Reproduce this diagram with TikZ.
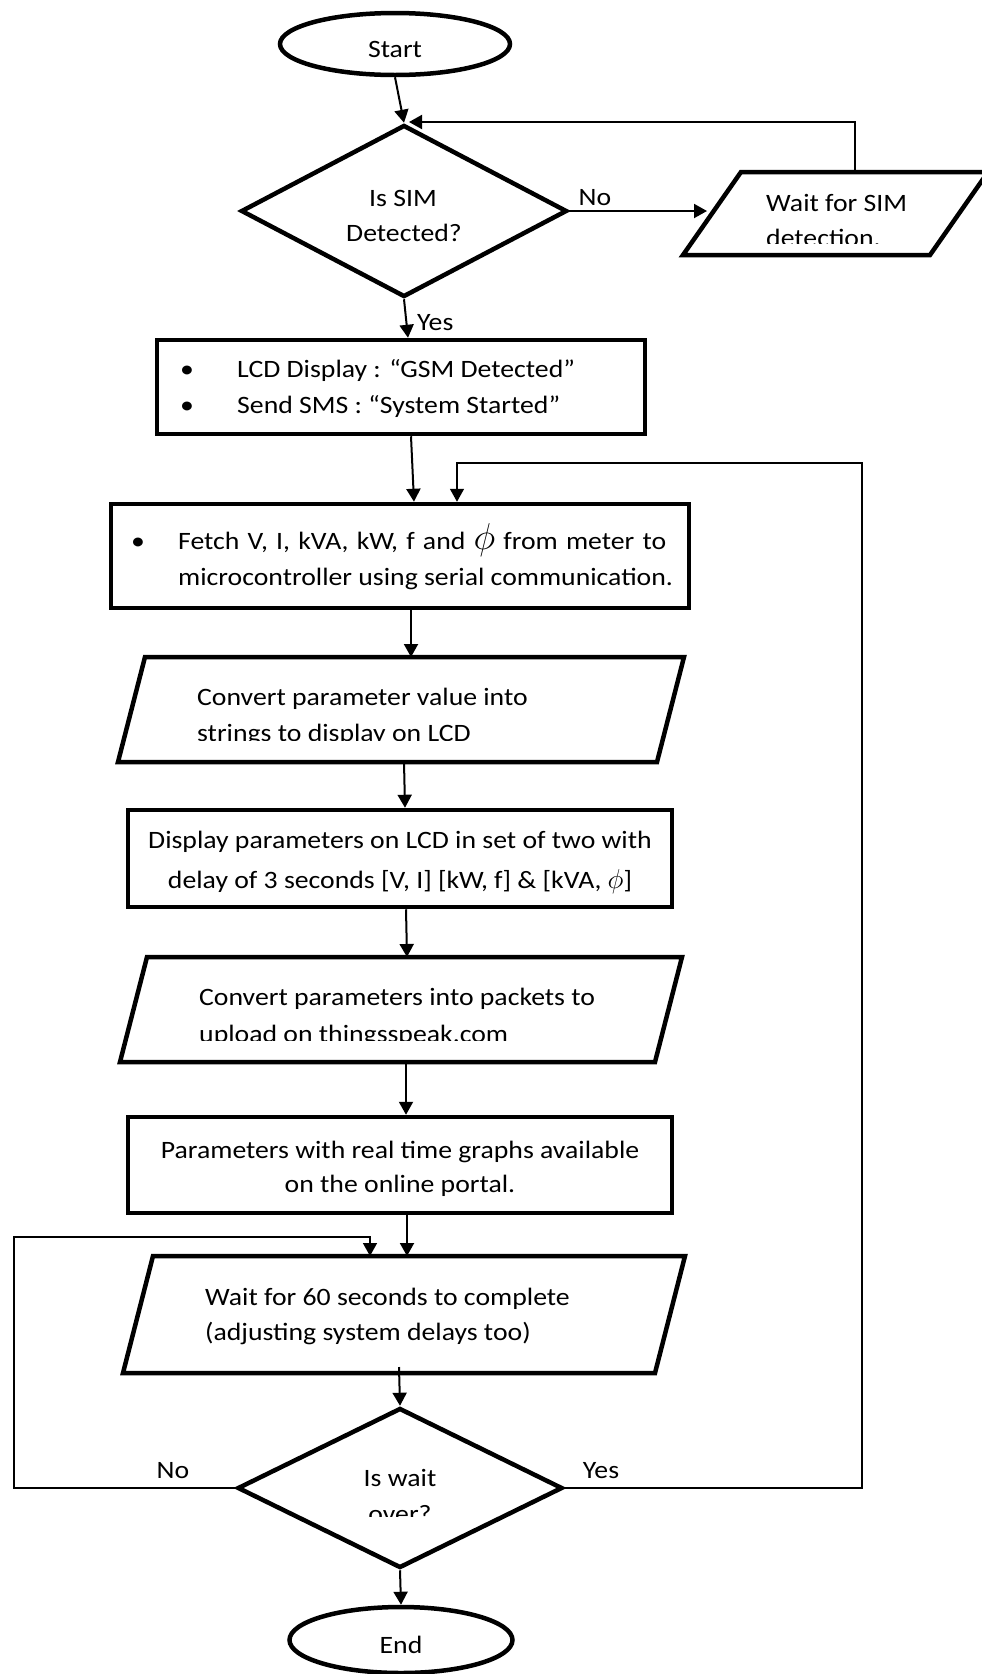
\documentclass[tikz,border=0pt]{standalone}
\usepackage{fontspec}
\setmainfont{Carlito}[FakeStretch=1.11]
\usepackage{graphicx}
\usetikzlibrary{shapes.geometric,arrows.meta,calc}

\tikzset{
  every node/.append style={font=\fontsize{25}{36}\selectfont},
  shapeline/.style={draw, line width=4.5pt, inner sep=0pt},
  procbox/.style={shapeline, rectangle},
  termbox/.style={shapeline, ellipse},
  decbox/.style={shapeline, diamond},
  iobox/.style={rectangle, inner sep=0pt, outer sep=0pt},
  txt/.style={inner sep=0pt, anchor=base},
  txtl/.style={inner sep=0pt, anchor=base west},
  flow/.style={line width=2pt, -{Triangle[width=14pt,length=13pt]}},
  back/.style={line width=1.5pt, -{Triangle[width=14pt,length=13pt]}},
}

% parallelogram drawn on the frame of an input/output node: #1 node, #2 slant
\newcommand\ioshape[2]{%
  \draw[line width=4.5pt, line join=miter]
    ($(#1.north west)+(#2,0)$) -- (#1.north east) --
    ($(#1.south east)-(#2,0)$) -- (#1.south west) -- cycle;}

\begin{document}
\begin{tikzpicture}[x=1pt,y=-1pt]
\useasboundingbox (0,0) rectangle (982,1674);

% ---------- shapes ----------
\node[termbox, minimum width=230, minimum height=62] (start) at (395,44) {};
\node[decbox, minimum width=326, minimum height=172] (d1) at (404,211) {};
\node[iobox, minimum width=305, minimum height=83] (simwait) at (835.5,213.5) {};
\ioshape{simwait}{58}
\node[procbox, minimum width=488, minimum height=94] (box1) at (401,387) {};
\node[procbox, minimum width=578, minimum height=104] (box2) at (400,556) {};
\node[iobox, minimum width=566, minimum height=105] (p1) at (401,709.5) {};
\ioshape{p1}{27}
\node[procbox, minimum width=544, minimum height=97] (box3) at (400,858.5) {};
\node[iobox, minimum width=562, minimum height=105] (p2) at (401,1009.5) {};
\ioshape{p2}{27}
\node[procbox, minimum width=544, minimum height=96] (box4) at (400,1165) {};
\node[iobox, minimum width=562, minimum height=117] (p3) at (404,1314.5) {};
\ioshape{p3}{30}
\node[decbox, minimum width=325, minimum height=160] (d2) at (400,1488) {};
\node[termbox, minimum width=223, minimum height=66] (stop) at (401,1640) {};

% ---------- texts ----------
\node[txt] (tstart) at (395,57) {Start};
\node[txt] (td1a) at (403,206) {Is SIM};
\node[txt] (td1b) at (404,241) {Detected?};
\node[txt] (lno1) at (595,205) {No};
\begin{scope}
  \clip (600,150) rectangle (982,243);
  \node[txtl] (tsim) at (766,211) {Wait for SIM};
  \node[txtl] (tsimb) at (766,246) {detection.};
\end{scope}
\node[txtl] (lyes1) at (417,330) {Yes};

\node[txt] (b1a) at (187,377) {\textbullet};
\node[txtl] (t1a) at (237,377) {LCD Display : “GSM Detected”};
\node[txt] (b1b) at (187,413) {\textbullet};
\node[txtl] (t1b) at (237,413) {Send SMS : “System Started”};

\node[txt] (b2) at (138,549) {\textbullet};
\node[txtl] (t2a) at (178,549)
  {\makebox[488pt][s]{Fetch V, I, kVA, kW, f and \scalebox{1.5}{$\phi$} from meter to}};
\node[txtl] (t2b) at (178,585) {microcontroller using serial communication.};

\begin{scope}
  \clip (100,650) rectangle (700,740);
  \node[txtl] (t3a) at (197,705) {Convert parameter value into};
  \node[txtl] (t3b) at (197,741) {strings to display on LCD};
\end{scope}

\node[txt] (t4a) at (400,848) {Display parameters on LCD in set of two with};
\node[txt] (t4b) at (400,888) {delay of 3 seconds [V, I] [kW, f] \& [kVA, \scalebox{1.1}{$\phi$}]};

\begin{scope}
  \clip (100,950) rectangle (700,1040);
  \node[txtl] (t5a) at (199,1005) {Convert parameters into packets to};
  \node[txtl] (t5b) at (199,1042) {upload on thingsspeak.com};
\end{scope}

\node[txt] (t6a) at (400,1158) {Parameters with real time graphs available};
\node[txt] (t6b) at (400,1192) {on the online portal.};

\node[txtl] (t7a) at (205,1305) {Wait for 60 seconds to complete};
\node[txtl] (t7b) at (205,1340) {(adjusting system delays too)};

\node[txt] (td2a) at (400,1486) {Is wait};
\begin{scope}
  \clip (300,1450) rectangle (500,1516);
  \node[txt] (td2b) at (400,1522) {over?};
\end{scope}
\node[txt] (lno2) at (173,1478) {No};
\node[txt] (lyes2) at (601,1478) {Yes};
\node[txt] (tstop) at (401,1653) {End};

% ---------- connectors ----------
\coordinate (nohead) at (707,211);
\coordinate (simtop) at (855,122);
\coordinate (simin) at (409,122);
\draw[flow] (start.south) -- (d1.north);
\draw[flow] (d1.east) -- (nohead);
\draw[flow] (simwait.north -| simtop) -- (simtop) -- (simin);
\draw[flow] (d1.south) -- ([xshift=7]box1.north);
\draw[flow] ([xshift=10]box1.south) -- ([xshift=14]box2.north);
\draw[flow] ([xshift=11]box2.south) -- ([xshift=10]p1.north);
\draw[flow] ([xshift=3]p1.south) -- ([xshift=5]box3.north);
\draw[flow] ([xshift=6]box3.south) -- ([xshift=6]p2.north);
\draw[flow] ([xshift=5]p2.south) -- ([xshift=6]box4.north);
\draw[flow] ([xshift=7]box4.south) -- ([xshift=3]p3.north);
\draw[flow] ([xshift=-5,yshift=6]p3.south) -- (d2.north);
\draw[flow] (d2.south) -- (stop.north);

% loop back when the wait is over
\coordinate (rtop) at (862,463);
\coordinate (rin) at (457,463);
\draw[back] (d2.east) -| (rtop) -- (rin) -- (rin |- box2.north);

% loop back while still waiting
\coordinate (lcorner) at (14,1237);
\coordinate (lin) at (370,1237);
\draw[back] (d2.west) -| (lcorner) -- (lin) -- (lin |- p3.north);
\end{tikzpicture}
\end{document}
